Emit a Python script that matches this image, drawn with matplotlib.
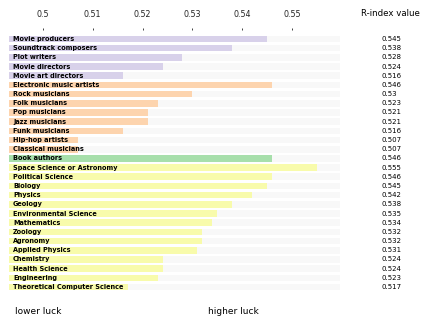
import numpy as np
import matplotlib
matplotlib.use('Agg')
import matplotlib.pyplot as plt
import matplotlib.transforms as mtransforms

# data
movie_names = ['Movie producers', 'Soundtrack composers', 'Plot writers',
               'Movie directors', 'Movie art directors']
movie_vals = [0.545, 0.538, 0.528, 0.524, 0.516]
music_names = ['Electronic music artists', 'Rock musicians', 'Folk musicians',
               'Pop musicians', 'Jazz musicians', 'Funk musicians',
               'Hip-hop artists', 'Classical musicians']
music_vals = [0.546, 0.530, 0.523, 0.521, 0.521, 0.516, 0.507, 0.507]
book_names = ['Book authors']
book_vals = [0.546]
sci_names = ['Space Science or Astronomy', 'Political Science', 'Biology',
             'Physics', 'Geology', 'Environmental Science', 'Mathematics',
             'Zoology', 'Agronomy', 'Applied Physics', 'Chemistry',
             'Health Science', 'Engineering', 'Theoretical Computer Science']
sci_vals = [0.555, 0.546, 0.545, 0.542, 0.538, 0.535, 0.534, 0.532, 0.532,
            0.531, 0.524, 0.524, 0.523, 0.517]
value_labels = ['0.545', '0.538', '0.528', '0.524', '0.516',
                '0.546', '0.53', '0.523', '0.521', '0.521', '0.516', '0.507', '0.507',
                '0.546',
                '0.555', '0.546', '0.545', '0.542', '0.538', '0.535', '0.534',
                '0.532', '0.532', '0.531', '0.524', '0.524', '0.523', '0.517']
ticks = [0.5, 0.51, 0.52, 0.53, 0.54, 0.55]

groups = [(movie_names, movie_vals, '#d8d1ea'),
          (music_names, music_vals, '#fdd4ae'),
          (book_names, book_vals, '#a7dfab'),
          (sci_names, sci_vals, '#f8fbab')]

names, vals, cols = [], [], []
for n, v, c in groups:
    names += n
    vals += v
    cols += [c] * len(n)

xmin, xmax = 0.4932, 0.5596
y = np.arange(len(names))

fig = plt.figure(figsize=(4.24, 3.21), dpi=100)
ax = fig.add_axes([9/424, 0.0916, 331/424, 0.8156])

# background bars
ax.barh(y, [xmax - xmin]*len(y), left=xmin, height=0.72, color='#f8f8f8', zorder=1)
ax.barh(y, np.array(vals) - xmin, left=xmin, height=0.72, color=cols, zorder=2)

trans = mtransforms.blended_transform_factory(ax.transAxes, ax.transData)
for i, n in enumerate(names):
    ax.text(0.012, i, n, transform=trans, fontsize=4.7, fontweight='bold',
            va='center', ha='left', zorder=3)

ftrans = mtransforms.blended_transform_factory(fig.transFigure, ax.transData)
for i, s in enumerate(value_labels):
    ax.text(381/424, i, s, transform=ftrans, fontsize=5, va='center', ha='left')

ax.set_xlim(xmin, xmax)
ax.set_ylim(len(names) - 0.5, -1)
ax.xaxis.tick_top()
ax.set_xticks(ticks)
ax.set_xticklabels([str(t) for t in ticks])
ax.tick_params(axis='x', labelsize=5.7, length=1.5, width=0.6, pad=6, colors='#222222')
ax.set_yticks([])
for s in ax.spines.values():
    s.set_visible(False)

fig.text(390/424, 1 - 14/321, 'R-index value', fontsize=6.2, ha='center', va='center')
fig.text(15/424, 1 - 312/321, 'lower luck', fontsize=6.5, ha='left', va='center')
fig.text(208/424, 1 - 312/321, 'higher luck', fontsize=6.5, ha='left', va='center')

plt.savefig('out.png', dpi=100)
